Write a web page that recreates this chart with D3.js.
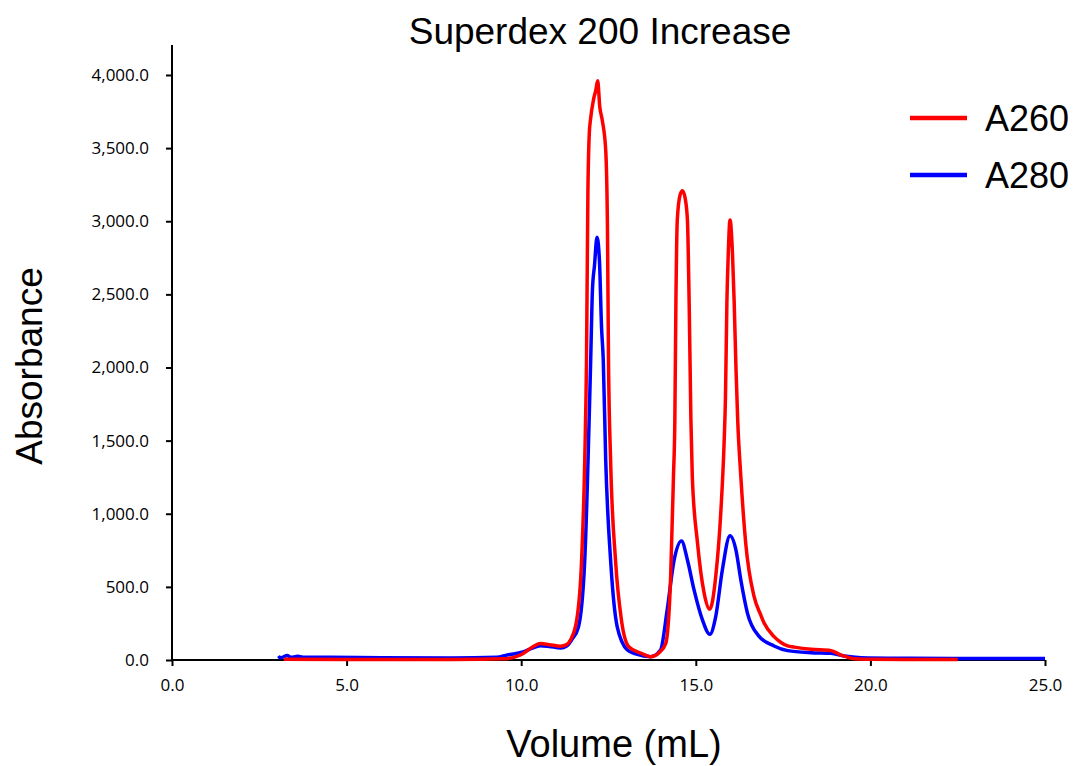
<!DOCTYPE html>
<html>
<head>
<meta charset="utf-8">
<script src="https://cdn.jsdelivr.net/npm/d3@7"></script>
<style>
    body { margin: 0; background: #fff; }
    svg { display: block; }
</style>
</head>
<body>
<svg id="chart" width="1077" height="766"></svg>
<script>
// Chromatogram readings (volume in mL, absorbance)
const a260Volume = [3.2, 5, 8, 9.5, 9.98, 10.3, 10.55, 10.8, 11.13, 11.3, 11.41, 11.59, 11.73, 11.82, 11.87,
    11.91, 11.95, 11.99, 12.07, 12.14, 12.19, 12.25, 12.32, 12.42, 12.47, 12.5, 12.56, 12.7, 12.87, 13.08,
    13.42, 13.71, 13.95, 14.14, 14.28, 14.36, 14.4, 14.43, 14.47, 14.55, 14.62, 14.7, 14.76, 14.81, 14.86,
    14.9, 15.05, 15.24, 15.4, 15.57, 15.72, 15.81, 15.85, 15.89, 15.93, 15.98, 16.05, 16.1, 16.15, 16.2,
    16.29, 16.43, 16.67, 16.86, 16.96, 17.24, 17.44, 17.63, 17.82, 18.3, 18.87, 19.16, 19.54, 20.02, 21, 22.5];
const a260Values = [5, 3, 4, 8, 34, 85, 112, 105, 94, 105, 137, 274, 684, 1368, 2051,
    3193, 3600, 3706, 3830, 3900, 3961, 3783, 3692, 3487, 2963, 2051, 1368, 684, 274, 91,
    48, 23, 50, 114, 570, 1253, 1641, 2440, 3009, 3180, 3209, 3150, 3009, 2440, 1641,
    1253, 798, 456, 347, 570, 1026, 1482, 1800, 2439, 2781, 3009, 2781, 2439, 2000, 1641,
    1253, 798, 433, 308, 251, 160, 120, 96, 88, 73, 64, 34, 9, 5, 3, 3];

const a280Volume = [3.05, 3.1, 3.3, 3.4, 3.6, 3.8, 4.5, 6, 8, 9.3, 9.6, 9.89, 10.08, 10.3, 10.55, 10.8,
    11.13, 11.3, 11.45, 11.64, 11.82, 11.99, 12.04, 12.1, 12.17, 12.24, 12.3, 12.35, 12.42, 12.56, 12.75,
    13.04, 13.3, 13.71, 13.99, 14.18, 14.38, 14.59, 14.76, 14.95, 15.19, 15.4, 15.57, 15.76, 15.98, 16.15,
    16.29, 16.48, 16.8, 17.24, 17.63, 18.3, 18.87, 19.25, 19.73, 21.16, 23, 25];
const a280Values = [27, 15, 30, 18, 25, 18, 18, 15, 14, 18, 34, 46, 57, 80, 98, 93,
    82, 95, 140, 226, 684, 2051, 2530, 2700, 2890, 2735, 2279, 2051, 1368, 684, 226,
    68, 40, 23, 68, 342, 684, 814, 684, 479, 274, 176, 296, 615, 850, 752,
    547, 319, 165, 96, 64, 50, 46, 27, 16, 12, 10, 10];

const yTicks = [0, 500, 1000, 1500, 2000, 2500, 3000, 3500, 4000];
const xTicks = [0, 5, 10, 15, 20, 25];

const seriesNames = ["A260", "A280"];
const seriesColors = ["#ff0000", "#0000ff"];

const svg = d3.select("#chart");
const margin = { left: 172, right: 1045, top: 45, bottom: 660 };

const x = d3.scaleLinear().domain([0, 25]).range([margin.left, margin.right]);
const y = d3.scaleLinear().domain([0, 4205]).range([margin.bottom, margin.top]);

const tickFont = "'Open Sans', sans-serif";

// y axis
const yAxis = svg.append("g")
    .attr("transform", `translate(${margin.left},0)`)
    .call(d3.axisLeft(y).tickValues(yTicks).tickFormat(d3.format(",.1f")).tickSize(6).tickPadding(17));
yAxis.select(".domain").attr("stroke", "#000").attr("stroke-width", 2).attr("d", `M0,${margin.top}V${margin.bottom}`);
yAxis.selectAll(".tick line").attr("stroke", "#000").attr("stroke-width", 2);
yAxis.selectAll(".tick text")
    .style("font-family", tickFont)
    .style("font-size", "17px")
    .attr("fill", "#000");

// x axis
const xAxis = svg.append("g")
    .attr("transform", `translate(0,${margin.bottom})`)
    .call(d3.axisBottom(x).tickValues(xTicks).tickFormat(d3.format(".1f")).tickSize(6).tickPadding(13));
xAxis.select(".domain").attr("stroke", "#000").attr("stroke-width", 2).attr("d", `M${margin.left},0H${margin.right}`);
xAxis.selectAll(".tick line").attr("stroke", "#000").attr("stroke-width", 2);
xAxis.selectAll(".tick text")
    .style("font-family", tickFont)
    .style("font-size", "17px")
    .attr("fill", "#000");

const line = d3.line()
    .x(d => x(d[0]))
    .y(d => y(d[1]))
    .curve(d3.curveMonotoneX);

const a280Data = a280Volume.map((v, i) => [v, a280Values[i]]);
const a260Data = a260Volume.map((v, i) => [v, a260Values[i]]);

svg.append("path")
    .datum(a280Data)
    .attr("fill", "none")
    .attr("stroke", seriesColors[1])
    .attr("stroke-width", 3.5)
    .attr("stroke-linejoin", "round")
    .attr("d", line);

svg.append("path")
    .datum(a260Data)
    .attr("fill", "none")
    .attr("stroke", seriesColors[0])
    .attr("stroke-width", 3.5)
    .attr("stroke-linejoin", "round")
    .attr("d", line);

// titles
svg.append("text")
    .attr("x", 600).attr("y", 44)
    .attr("text-anchor", "middle")
    .style("font-family", "'Liberation Sans', Arial, sans-serif")
    .style("font-size", "37px")
    .text("Superdex 200 Increase");

svg.append("text")
    .attr("transform", "translate(42,366) rotate(-90)")
    .attr("text-anchor", "middle")
    .style("font-family", "'Liberation Sans', Arial, sans-serif")
    .style("font-size", "37px")
    .text("Absorbance");

svg.append("text")
    .attr("x", 614).attr("y", 757)
    .attr("text-anchor", "middle")
    .style("font-family", "'Liberation Sans Narrow', 'Liberation Sans', sans-serif")
    .style("font-size", "38px")
    .text("Volume (mL)");

// legend
const legend = svg.append("g").attr("transform", "translate(910,118)");
seriesNames.forEach((name, i) => {
    const g = legend.append("g").attr("transform", `translate(0,${i * 57})`);
    g.append("line")
        .attr("x1", 0).attr("x2", 57)
        .attr("stroke", seriesColors[i])
        .attr("stroke-width", 4.5);
    g.append("text")
        .attr("x", 75).attr("y", 13)
        .style("font-family", "'Liberation Sans', Arial, sans-serif")
        .style("font-size", "36px")
        .text(name);
});
</script>
</body>
</html>
